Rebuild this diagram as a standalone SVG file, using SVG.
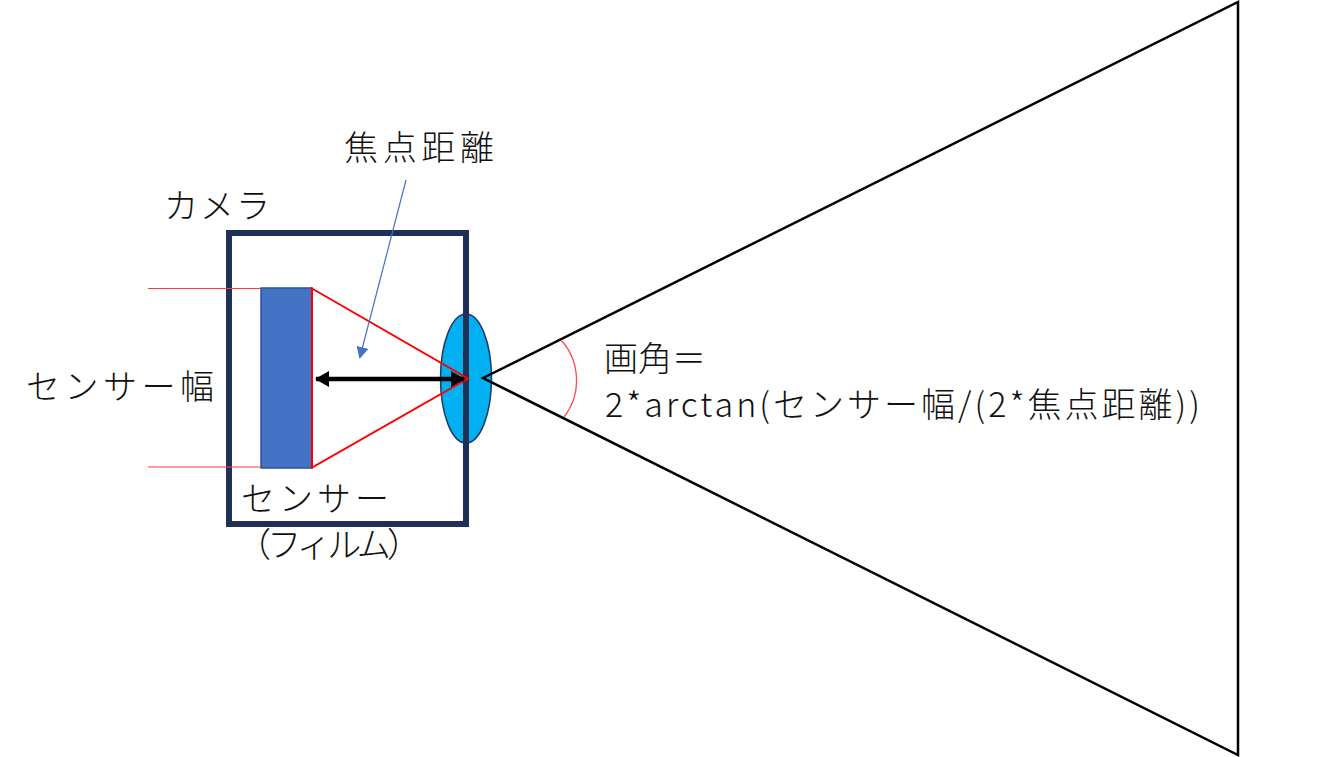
<svg xmlns="http://www.w3.org/2000/svg" width="1344" height="757" viewBox="0 0 1344 757">
<style>
  text { font-family: "Noto Sans CJK JP", "Noto Sans", sans-serif; font-size: 34px; font-weight: 300; fill: #111; }
  .red { stroke: #FF0000; stroke-width: 1.5; fill: none; }
</style>
<defs>
  <marker id="blueHead" markerWidth="12" markerHeight="12" refX="10" refY="6" orient="auto" markerUnits="userSpaceOnUse">
    <path d="M0,0 L12,6 L0,12 Z" fill="#4472C4"/>
  </marker>
  <marker id="blackHead" markerWidth="14" markerHeight="16" refX="13" refY="8" orient="auto-start-reverse" markerUnits="userSpaceOnUse">
    <path d="M0,0 L14,8 L0,16 Z" fill="#000"/>
  </marker>
</defs>
<rect width="1344" height="757" fill="#fff"/>

<g id="lens">
  <ellipse cx="466" cy="378.5" rx="25.5" ry="64.5" fill="#00B0F0" stroke="#1F3864" stroke-width="1.5"/>
</g>
<g id="camera">
  <rect x="229" y="233" width="237" height="291" fill="none" stroke="#1F3056" stroke-width="6"/>
</g>
<g id="sensor">
  <rect x="261" y="288" width="51" height="180" fill="#4472C4" stroke="#2F528F" stroke-width="1.5"/>
</g>
<g id="view-cone">
  <polygon points="483,378 1238,2 1238,755" fill="none" stroke="#000" stroke-width="2.5" stroke-linejoin="miter"/>
</g>

<g id="connectors">
  <line x1="148" y1="288.5" x2="261" y2="288.5" stroke="#FF3B3B" stroke-width="1.2"/>
  <line x1="148" y1="467" x2="261" y2="467" stroke="#FF3B3B" stroke-width="1.2"/>
  <polygon points="312,288.5 468,378.5 312,467.5" fill="none" stroke="#FF0000" stroke-width="2"/>
  <line x1="316" y1="379" x2="464" y2="379" stroke="#000" stroke-width="4.5" marker-start="url(#blackHead)" marker-end="url(#blackHead)"/>
  <line x1="406" y1="180" x2="360" y2="357" stroke="#4472C4" stroke-width="1.2" marker-end="url(#blueHead)"/>
  <path d="M561,340 A60,60 0 0 1 564,417" fill="none" stroke="#FF4B4B" stroke-width="1.3"/>
</g>

<g id="labels">
  <text x="344" y="160" textLength="150" lengthAdjust="spacing">焦点距離</text>
  <text x="164" y="218" textLength="106" lengthAdjust="spacing">カメラ</text>
  <text x="26" y="399" textLength="188" lengthAdjust="spacing">センサー幅</text>
  <text x="241" y="511" font-size="32" textLength="148" lengthAdjust="spacing">センサー</text>
  <text x="237" y="557" font-size="32" textLength="184" lengthAdjust="spacing">（フィルム）</text>
  <text x="604" y="371" font-size="33">画角＝</text>
  <text x="605" y="417" font-size="33" textLength="595" lengthAdjust="spacing">2*arctan(センサー幅/(2*焦点距離))</text>
</g>
</svg>
